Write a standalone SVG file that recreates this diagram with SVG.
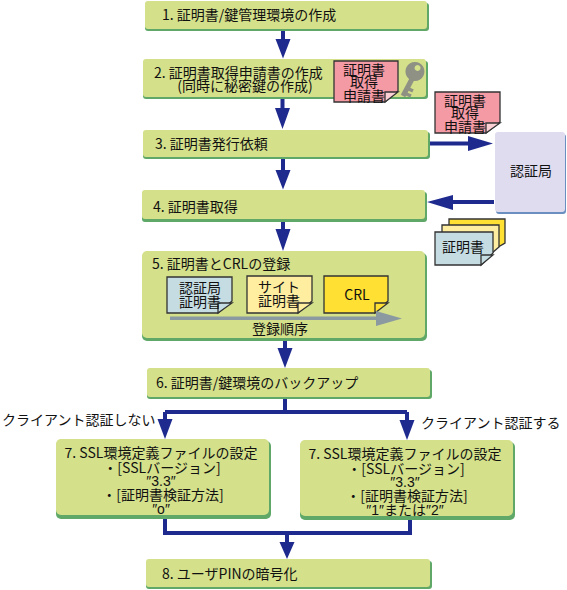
<svg xmlns="http://www.w3.org/2000/svg" width="567" height="590" viewBox="0 0 567 590">
<style>
text{font-family:"Noto Sans CJK JP","Liberation Sans",sans-serif;font-size:14px;fill:#111;text-anchor:middle}
.l{text-anchor:start}
.q{font-family:"Liberation Sans","Noto Sans CJK JP",sans-serif}
.sh{fill:#5fa868}
.bx{fill:#d4e08a}
.ln{fill:none;stroke:#1f2a8f;stroke-width:4}
.hd{fill:#1f2a8f}
.doc{stroke:#333;stroke-width:1.3}
</style>
<rect width="567" height="590" fill="#fff"/>
<g id="connectors">
<path class="ln" d="M283 30V42M282.500 99V110M283 159V172M283 222V231M285 341V350M429 143.500H470M494 202H451M285 399V412M165 412H407M165 412V421M407 412V422M165 518V533H410V519M287 533V544"/>
<path class="hd" d="M275.500 39H290.500L283 58.500ZM275 108H290L282.500 129ZM275.500 170H290.500L283 189.500ZM275.500 229H290.500L283 251ZM277.500 348H292.500L285 368ZM468 136V151L493 143.500ZM453 195V210L427 202ZM157.500 419H172.500L165 439ZM399.500 420H414.500L407 440ZM279.500 542H294.500L287 559Z"/>
</g>
<g id="node1"><rect class="sh" x="145" y="3" width="284" height="28" rx="3"/><rect class="bx" x="145" y="1" width="282" height="28" rx="3"/><text class="l" x="162" y="20">1. 証明書/鍵管理環境の作成</text></g>
<g id="node2"><rect class="sh" x="143" y="61" width="285" height="38" rx="3"/><rect class="bx" x="143" y="59" width="283" height="38" rx="3"/><text class="l" x="154" y="78">2. 証明書取得申請書の作成</text><text x="245" y="91">(同時に秘密鍵の作成)</text>
<g id="key"><path fill="#8e9183" fill-rule="evenodd" d="M415 62A9.500 9.500 0 1 1 414.900 62ZM417.500 65A3 3 0 1 0 417.600 65Z"/><path fill="none" stroke="#8e9183" stroke-width="5" d="M412 79L403 96"/><path fill="none" stroke="#8e9183" stroke-width="3.500" d="M407 88L413 91M404 93L411 96"/></g>
<path class="doc" fill="#f49aa4" d="M334 61H398V91L385 102H334Z"/><path class="doc" fill="#fbd0d5" d="M385 102V92H398Z" stroke-width="1"/><text x="364" y="75">証明書</text><text x="364" y="87">取得</text><text x="364" y="101">申請書</text></g>
<g id="node3"><rect class="sh" x="143" y="132" width="287" height="27" rx="3"/><rect class="bx" x="143" y="130" width="285" height="27" rx="3"/><text class="l" x="155" y="149">3. 証明書発行依頼</text></g>
<g id="node4"><rect class="sh" x="142" y="192" width="285" height="30" rx="3"/><rect class="bx" x="142" y="190" width="283" height="29" rx="3"/><text class="l" x="153" y="212">4. 証明書取得</text></g>
<g id="node5"><rect class="sh" x="142" y="253" width="285" height="88" rx="5"/><rect class="bx" x="142" y="251" width="283" height="87" rx="5"/><text class="l" x="152" y="269">5. 証明書とCRLの登録</text>
<path class="doc" fill="#c5dde2" d="M167 277H232V301L218 313H167Z"/><path class="doc" fill="#c5dde2" d="M218 313V303H232Z"/><text x="200" y="293">認証局</text><text x="200" y="307">証明書</text>
<path class="doc" fill="#ffeda0" d="M247 276H312V301L298 313H247Z"/><path class="doc" fill="#ffeda0" d="M298 313V303H312Z"/><text x="279" y="292">サイト</text><text x="279" y="306">証明書</text>
<path class="doc" fill="#ffe033" d="M324 276H388V301L375 313H324Z"/><path class="doc" fill="#ffe033" d="M375 313V303H388Z"/><text x="357" y="300">CRL</text>
<path fill="#8a9aa0" d="M170 316.500H376V311L402 318.500L376 326V320H170Z"/><text x="280" y="334">登録順序</text></g>
<g id="node6"><rect class="sh" x="147" y="370" width="285" height="29" rx="3"/><rect class="bx" x="147" y="368" width="283" height="29" rx="3"/><text class="l" x="156" y="388">6. 証明書/鍵環境のバックアップ</text></g>
<g id="node7a"><rect class="sh" x="56" y="441" width="215" height="78" rx="5"/><rect class="bx" x="56" y="439" width="213" height="76" rx="5"/><text x="161" y="458">7. SSL環境定義ファイルの設定</text><text x="162" y="473">・[SSLバージョン]</text><text x="161" y="486" class="q">″3.3″</text><text x="163" y="500">・[証明書検証方法]</text><text x="161" y="514" class="q">″o″</text></g>
<g id="node7b"><rect class="sh" x="300" y="442" width="215" height="78" rx="5"/><rect class="bx" x="300" y="440" width="213" height="76" rx="5"/><text x="405" y="459">7. SSL環境定義ファイルの設定</text><text x="406" y="474">・[SSLバージョン]</text><text x="405" y="487" class="q">″3.3″</text><text x="407" y="501">・[証明書検証方法]</text><text x="405" y="515" class="q">″1″または″2″</text></g>
<g id="node8"><rect class="sh" x="146" y="561" width="286" height="28" rx="3"/><rect class="bx" x="146" y="559" width="284" height="28" rx="3"/><text class="l" x="162" y="579">8. ユーザPINの暗号化</text></g>
<g id="ca"><rect fill="#6a8fc0" x="496" y="134" width="70" height="80" rx="3"/><rect fill="#dedcee" x="495" y="132" width="70" height="80" rx="3"/><text x="531" y="176">認証局</text></g>
<g id="reqdoc"><path class="doc" fill="#f49aa4" d="M435 92H500V122L486 133H435Z"/><path class="doc" fill="#fbd0d5" d="M486 133V123H500Z" stroke-width="1"/><text x="465" y="106">証明書</text><text x="465" y="118">取得</text><text x="465" y="132">申請書</text></g>
<g id="certs"><path class="doc" fill="#ffe033" d="M449 219H505V243L498 247H449Z"/><path class="doc" fill="#ffeda0" d="M442 225H499V247L492 253H442Z"/><path class="doc" fill="#c5dde2" d="M435 232H493V253L481 265H435Z"/><path class="doc" fill="#c5dde2" d="M481 265V255H493Z"/><text x="463" y="252">証明書</text></g>
<text id="lab1" class="l" x="2" y="425">クライアント認証しない</text>
<text id="lab2" class="l" x="421" y="428">クライアント認証する</text>
</svg>
